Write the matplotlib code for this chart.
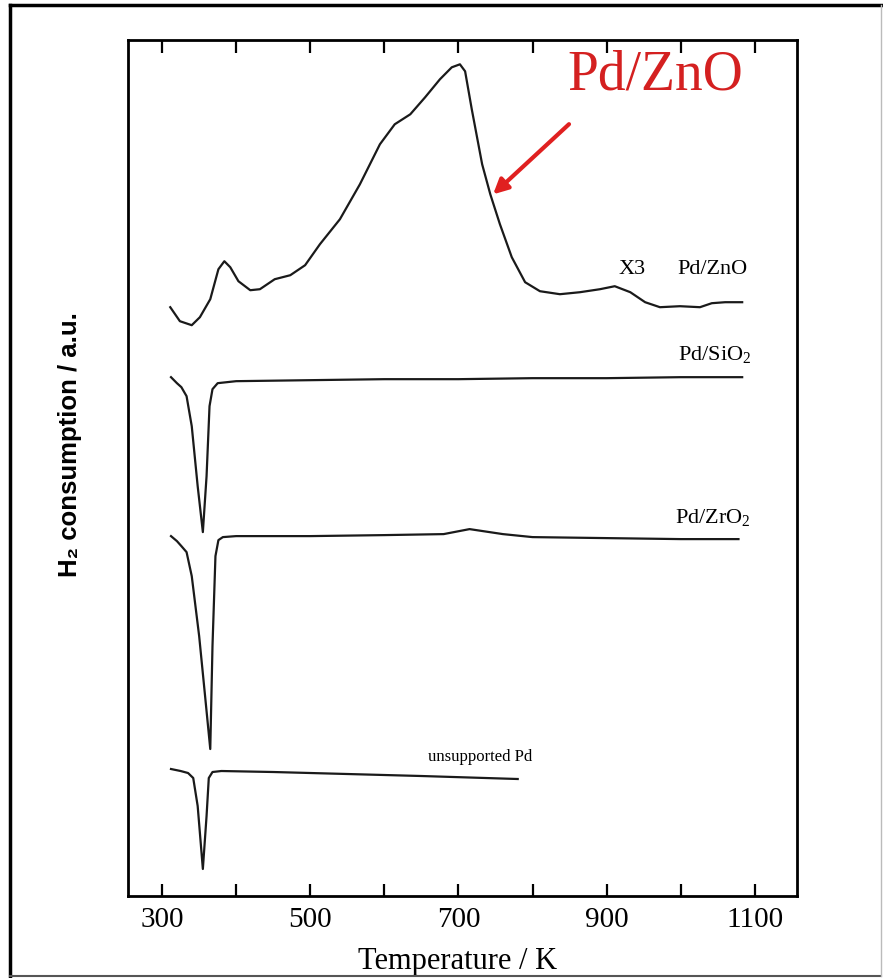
import matplotlib.pyplot as plt
from matplotlib.patches import FancyArrowPatch
from matplotlib.lines import Line2D

plt.rcParams['font.family'] = ['Liberation Serif', 'DejaVu Serif']
plt.rcParams['mathtext.fontset'] = 'custom'
plt.rcParams['mathtext.rm'] = 'Liberation Serif'

# signals (arbitrary units, larger = higher on the plot)
zno_T = [311, 324, 340, 351, 365, 376, 384, 392, 403, 419, 432, 452, 473, 493, 513,
         540, 567, 594, 614, 635, 655, 675, 691, 702, 709, 718, 732, 743, 756, 772,
         790, 810, 837, 864, 891, 911, 932, 952, 972, 999, 1026, 1042, 1060, 1083]
zno_h = [589, 575, 571, 579, 597, 627, 635, 629, 615, 606, 607, 617, 621, 631, 652,
         677, 712, 752, 772, 782, 799, 817, 829, 832, 825, 787, 732, 702, 672, 639,
         614, 605, 602, 604, 607, 610, 604, 594, 589, 590, 589, 593, 594, 594]

sio2_T = [312, 320, 326, 333, 340, 348, 355, 360, 364, 368, 375, 400, 500, 600, 700, 800, 900, 1000, 1083]
sio2_h = [519, 513, 509, 500, 470, 410, 364, 420, 490, 507, 513, 515, 516, 517, 517, 518, 518, 519, 519]

zro2_T = [312, 320, 326, 333, 340, 350, 358, 365, 368, 372, 376, 382, 400, 500, 600, 680, 715, 760, 800, 900, 1000, 1078]
zro2_h = [360, 355, 350, 344, 320, 260, 200, 147, 250, 340, 356, 359, 360, 360, 361, 362, 367, 362, 359, 358, 357, 357]

pd_T = [312, 325, 335, 342, 348, 355, 360, 363, 368, 380, 450, 550, 650, 780]
pd_h = [127, 125, 123, 118, 90, 27, 80, 118, 124, 125, 124, 122, 120, 117]

tick_vals = [300, 400, 500, 600, 700, 800, 900, 1000, 1100]
tick_text = ['300', '', '500', '', '700', '', '900', '', '1100']

fig = plt.figure(figsize=(8.83, 9.79), dpi=100)
ax = fig.add_axes([0.145, 0.0838, 0.7576, 0.874])

for T, h in [(zno_T, zno_h), (sio2_T, sio2_h), (zro2_T, zro2_h), (pd_T, pd_h)]:
    ax.plot(T, h, color='#1a1a1a', lw=1.6)

ax.set_xlim(254, 1157)
ax.set_ylim(0, 856)
ax.set_xticks(tick_vals)
ax.set_xticklabels(tick_text, fontsize=21)
ax.set_yticks([])
ax.tick_params(axis='x', direction='in', length=9, width=1.6, top=True, pad=7)
for s in ax.spines.values():
    s.set_linewidth(2)

ax.set_xlabel('Temperature / K', fontsize=22)
ax.xaxis.set_label_coords(0.492, -0.058)
ax.set_ylabel('H₂ consumption / a.u.', fontsize=18.5, fontweight='bold',
              family=['Liberation Sans', 'DejaVu Sans'])
ax.yaxis.set_label_coords(-0.069, 0.529)

ax.text(934, 628, 'X3', fontsize=16, ha='center', va='center')
ax.text(996, 628, 'Pd/ZnO', fontsize=16, ha='left', va='center')
ax.text(996, 542, 'Pd/SiO$_2$', fontsize=16, ha='left', va='center')
ax.text(992, 379, 'Pd/ZrO$_2$', fontsize=16, ha='left', va='center')
ax.text(729, 140, 'unsupported Pd', fontsize=12, ha='center', va='center')

ax.text(965, 822, 'Pd/ZnO', fontsize=40, color='#d42020', ha='center', va='center')
arr = FancyArrowPatch((852, 774), (744, 700), arrowstyle='-|>', mutation_scale=22,
                      color='#e02020', lw=3)
ax.add_patch(arr)

# outer frame of the picture
W, H = 883, 979
fig.add_artist(Line2D([10 / W, 883 / W], [1 - 6 / H, 1 - 6 / H], color='black', lw=2.5))
fig.add_artist(Line2D([10 / W, 10 / W], [1 - 6 / H, 1 - 977 / H], color='black', lw=2.5))
fig.add_artist(Line2D([10 / W, 881 / W], [1 - 977 / H, 1 - 977 / H], color='#555555', lw=1.5))
fig.add_artist(Line2D([881 / W, 881 / W], [1 - 6 / H, 1 - 977 / H], color='#bbbbbb', lw=1))

fig.savefig('out.png', dpi=100)
